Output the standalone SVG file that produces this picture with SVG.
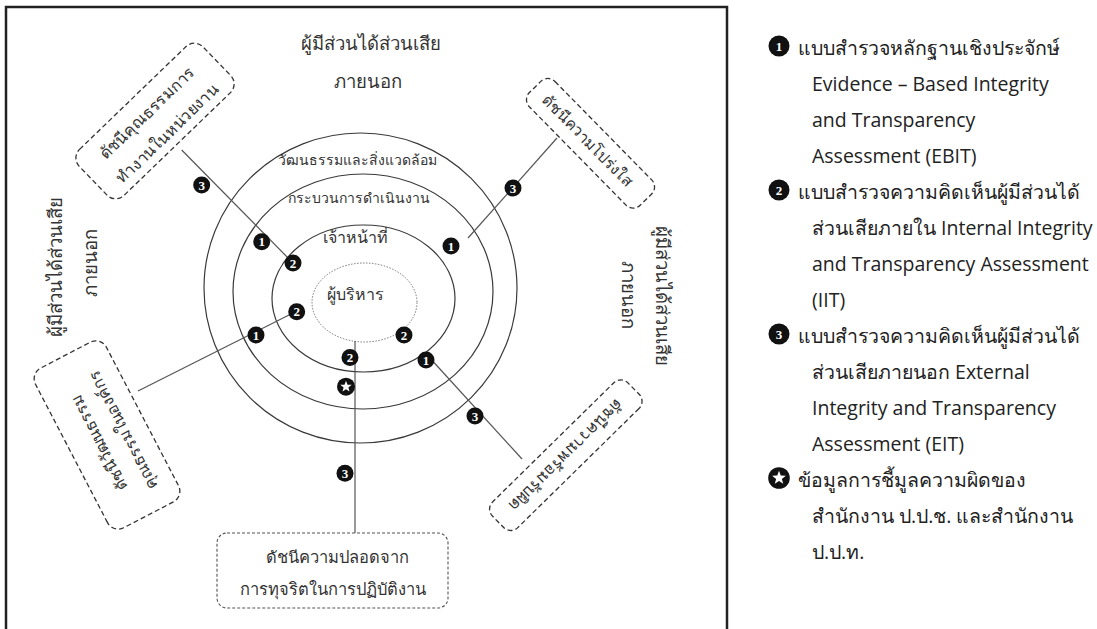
<svg xmlns="http://www.w3.org/2000/svg" width="1097" height="629" viewBox="0 0 1097 629">
<style>
  .th { font-family: "Noto Sans", "Open Sans", sans-serif; fill: #333; }
  .ring { fill: none; stroke: #3a3a3a; stroke-width: 1.2; }
  .dot { fill: none; stroke: #777; stroke-width: 1; stroke-dasharray: 1.5 1.5; }
  .conn line { stroke: #555; stroke-width: 1.2; }
  .box { fill: #fff; stroke: #333; stroke-width: 1.3; stroke-dasharray: 5 3; }
  .box2 { fill: #fff; stroke: #555; stroke-width: 1.1; stroke-dasharray: 3 2; }
  .bd circle { fill: #111; }
  .bd text { fill: #fff; font-family: "Liberation Serif", serif; font-weight: bold; font-size: 13px; text-anchor: middle; }
  .star { fill: #fff; }
  .lg { font-family: "Open Sans", "Noto Sans", sans-serif; font-size: 19.5px; fill: #222; }
</style>
<defs>
  <g id="badge-star"><circle r="9" fill="#111"/><polygon class="star" points="0,-6 1.47,-2.02 5.71,-1.85 2.38,0.77 3.53,4.85 0,2.5 -3.53,4.85 -2.38,0.77 -5.71,-1.85 -1.47,-2.02"/></g>
</defs>
<rect x="0" y="0" width="1097" height="629" fill="#fff"/>
<rect id="frame" x="6" y="7" width="721" height="630" fill="none" stroke="#222" stroke-width="2.5"/>

<g id="rings">
  <ellipse class="ring" cx="360.5" cy="288" rx="156.5" ry="155"/>
  <ellipse class="ring" cx="363" cy="291.5" rx="130" ry="117.5"/>
  <ellipse class="ring" cx="363.5" cy="298.5" rx="91.5" ry="73.5"/>
  <ellipse class="dot" cx="364.5" cy="302.5" rx="52.5" ry="39.5"/>
</g>

<g id="ring-labels" class="th" text-anchor="middle">
  <text x="357.5" y="165" font-size="14">วัฒนธรรมและสิ่งแวดล้อม</text>
  <text x="359" y="203" font-size="14">กระบวนการดำเนินงาน</text>
  <text x="355" y="243" font-size="16">เจ้าหน้าที่</text>
  <text x="355" y="300" font-size="16">ผู้บริหาร</text>
</g>

<g id="stakeholders" class="th" font-size="18.5" text-anchor="middle">
  <text x="371" y="50">ผู้มีส่วนได้ส่วนเสีย</text>
  <text x="368" y="88">ภายนอก</text>
  <text transform="translate(62,267) rotate(-90)">ผู้มีส่วนได้ส่วนเสีย</text>
  <text transform="translate(97,263) rotate(-90)">ภายนอก</text>
  <text transform="translate(622,295) rotate(90)">ภายนอก</text>
  <text transform="translate(656,296) rotate(90)">ผู้มีส่วนได้ส่วนเสีย</text>
</g>

<g id="connectors" class="conn">
  <line x1="181.7" y1="150" x2="293" y2="263"/>
  <line x1="468" y1="238" x2="557" y2="138"/>
  <line x1="138" y1="391" x2="293" y2="313"/>
  <line x1="431.7" y1="360" x2="522" y2="459"/>
  <line x1="355" y1="341" x2="355" y2="533"/>
</g>

<g id="node-work-integrity" transform="translate(155,121) rotate(-44)">
  <rect class="box" x="-86" y="-32" width="172" height="64" rx="12"/>
  <text class="th" font-size="16" text-anchor="middle" x="0" y="-6">ดัชนีคุณธรรมการ</text>
  <text class="th" font-size="16" text-anchor="middle" x="0" y="23">ทำงานในหน่วยงาน</text>
</g>

<g id="node-transparency" transform="translate(590.5,143.3) rotate(45.5)">
  <rect class="box" x="-79" y="-18" width="158" height="36" rx="10"/>
  <text class="th" font-size="15.5" text-anchor="middle" x="-4" y="5.5">ดัชนีความโปร่งใส</text>
</g>

<g id="node-culture" transform="translate(107,435) rotate(242.5)">
  <rect class="box" x="-90" y="-40" width="180" height="80" rx="12"/>
  <text class="th" font-size="16" text-anchor="middle" x="-3" y="-5">ดัชนีวัฒนธรรม</text>
  <text class="th" font-size="16" text-anchor="middle" x="-3" y="22">คุณธรรมในองค์กร</text>
</g>

<g id="node-accountability" transform="translate(565.8,455.2) rotate(135.5)">
  <rect class="box" x="-95" y="-18" width="190" height="36" rx="10"/>
  <text class="th" font-size="16" text-anchor="middle" x="0" y="5.5">ดัชนีความพร้อมรับผิด</text>
</g>

<g id="node-corruption-free">
  <rect class="box2" x="217" y="533" width="231" height="75" rx="10"/>
  <text class="th" font-size="16.5" text-anchor="middle" x="337" y="563">ดัชนีความปลอดจาก</text>
  <text class="th" font-size="16.5" text-anchor="middle" x="333" y="595">การทุจริตในการปฏิบัติงาน</text>
</g>

<g id="badges" class="bd">
  <g transform="translate(201.7,185)"><circle r="8.5"/><text y="4.5">3</text></g>
  <g transform="translate(261.7,241.7)"><circle r="8.5"/><text y="4.5">1</text></g>
  <g transform="translate(293,263)"><circle r="8.5"/><text y="4.5">2</text></g>
  <g transform="translate(513,188)"><circle r="8.5"/><text y="4.5">3</text></g>
  <g transform="translate(451,246)"><circle r="8.5"/><text y="4.5">1</text></g>
  <g transform="translate(296.7,311.7)"><circle r="8.5"/><text y="4.5">2</text></g>
  <g transform="translate(256,335)"><circle r="8.5"/><text y="4.5">1</text></g>
  <g transform="translate(404,335)"><circle r="8.5"/><text y="4.5">2</text></g>
  <g transform="translate(426,360)"><circle r="8.5"/><text y="4.5">1</text></g>
  <g transform="translate(350,357.5)"><circle r="8.5"/><text y="4.5">2</text></g>
  <use href="#badge-star" x="346" y="386.7"/>
  <g transform="translate(475,416)"><circle r="8.5"/><text y="4.5">3</text></g>
  <g transform="translate(345,473.3)"><circle r="8.5"/><text y="4.5">3</text></g>
</g>

<g id="legend">
  <g class="bd">
    <g transform="translate(779,46)"><circle r="10.5"/><text y="5" font-size="15">1</text></g>
    <g transform="translate(779,190)"><circle r="10.5"/><text y="5" font-size="15">2</text></g>
    <g transform="translate(779,334)"><circle r="10.5"/><text y="5" font-size="15">3</text></g>
    <use href="#badge-star" transform="translate(779,478) scale(1.2)"/>
  </g>
  <text class="lg" x="798" y="55">แบบสำรวจหลักฐานเชิงประจักษ์</text>
  <text class="lg" x="812" y="91">Evidence – Based Integrity</text>
  <text class="lg" x="812" y="127">and Transparency</text>
  <text class="lg" x="812" y="163">Assessment (EBIT)</text>
  <text class="lg" x="798" y="199">แบบสำรวจความคิดเห็นผู้มีส่วนได้</text>
  <text class="lg" x="812" y="235">ส่วนเสียภายใน Internal Integrity</text>
  <text class="lg" x="812" y="271">and Transparency Assessment</text>
  <text class="lg" x="812" y="307">(IIT)</text>
  <text class="lg" x="798" y="343">แบบสำรวจความคิดเห็นผู้มีส่วนได้</text>
  <text class="lg" x="812" y="379">ส่วนเสียภายนอก External</text>
  <text class="lg" x="812" y="415">Integrity and Transparency</text>
  <text class="lg" x="812" y="451">Assessment (EIT)</text>
  <text class="lg" x="798" y="487">ข้อมูลการชี้มูลความผิดของ</text>
  <text class="lg" x="812" y="523">สำนักงาน ป.ป.ช. และสำนักงาน</text>
  <text class="lg" x="812" y="559">ป.ป.ท.</text>
</g>
</svg>
